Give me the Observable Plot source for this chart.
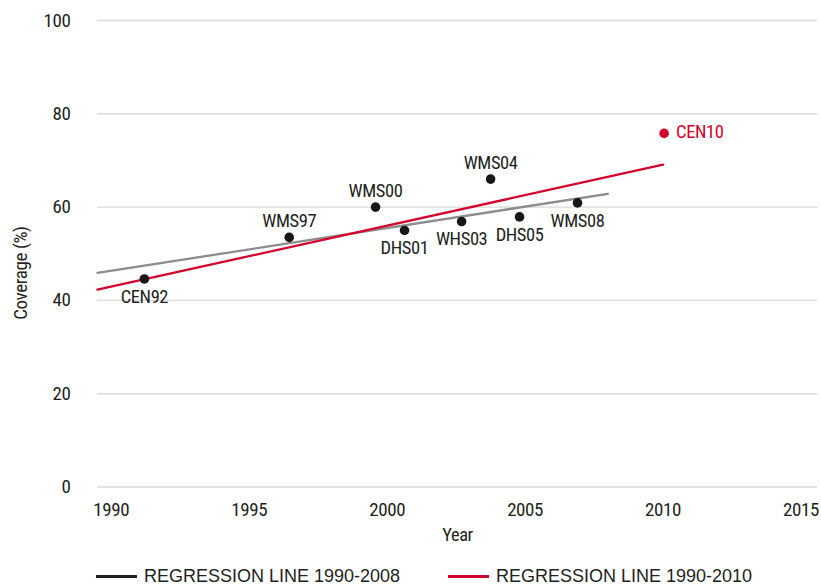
<!DOCTYPE html>
<html>
<head>
<meta charset="utf-8">
<script src="https://cdn.jsdelivr.net/npm/d3@7"></script>
<script src="https://cdn.jsdelivr.net/npm/@observablehq/plot@0.6"></script>
<style>
  html, body { margin: 0; padding: 0; background: #fff; }
  #wrap { position: relative; width: 821px; height: 585px; overflow: hidden; }
  #chart svg { overflow: visible; }
  #legend { position: absolute; left: 0; top: 568px; width: 821px; height: 17px;
            font-family: "Liberation Sans", Arial, sans-serif; font-size: 18px; line-height: 17px; color: #231f20; }
  .item { position: absolute; top: 0; height: 17px; display: flex; align-items: center; white-space: nowrap; }
  .swatch { display: inline-block; height: 2.5px; margin-right: 7px; }
</style>
</head>
<body>
<div id="wrap">
  <div id="chart"></div>
  <div id="legend"></div>
</div>
<script>
// ---- data ----
const surveys  = ["CEN92", "WMS97", "WMS00", "DHS01", "WHS03", "WMS04", "DHS05", "WMS08", "CEN10"];
const years    = [1991.2, 1996.45, 1999.58, 2000.63, 2002.7, 2003.75, 2004.8, 2006.9, 2010.04];
const coverage = [44.6, 53.5, 60.0, 55.0, 56.9, 66.0, 57.9, 60.9, 75.8];
const labelPos = ["below", "above", "above", "below", "below", "above", "below", "below", "right"];

const reg1Years  = [1989.5, 2008];   // regression line 1990-2008
const reg1Values = [45.9, 62.85];
const reg2Years  = [1989.5, 2010];   // regression line 1990-2010
const reg2Values = [42.3, 69.1];

const xTicks = [1990, 1995, 2000, 2005, 2010, 2015];
const yTicks = [0, 20, 40, 60, 80, 100];
const legendLabels = ["REGRESSION LINE 1990-2008", "REGRESSION LINE 1990-2010"];

// ---- styles ----
const RED = "#d4002b";
const GREY = "#8c8c8c";
const INK = "#231f20";
const narrow = "'Roboto Condensed', 'Open Sans', sans-serif";

const pts = surveys.map((s, i) => ({survey: s, year: years[i], value: coverage[i], pos: labelPos[i], isLast: s === "CEN10"}));
const reg1 = reg1Years.map((y, i) => ({year: y, value: reg1Values[i]}));
const reg2 = reg2Years.map((y, i) => ({year: y, value: reg2Values[i]}));

const chart = Plot.plot({
  width: 821,
  height: 550,
  marginLeft: 97,
  marginRight: 4,
  marginTop: 20,
  marginBottom: 63.5,
  style: {fontFamily: narrow, fontSize: "19px", color: INK, background: "#fff", letterSpacing: "-0.4px", overflow: "visible"},
  x: {domain: [1989.5, 2015.6], ticks: xTicks, tickFormat: d => String(d), tickSize: 0, tickPadding: 15, label: null},
  y: {domain: [0, 100], ticks: yTicks, tickSize: 0, tickPadding: 27, label: null},
  marks: [
    Plot.ruleY(yTicks, {stroke: "#dadada", strokeWidth: 1.4}),
    Plot.line(reg1, {x: "year", y: "value", stroke: GREY, strokeWidth: 2.3}),
    Plot.line(reg2, {x: "year", y: "value", stroke: RED, strokeWidth: 2.3}),
    Plot.dot(pts, {x: "year", y: "value", r: 4.8, fill: d => d.isLast ? RED : "#1a1617", stroke: "none"}),
    Plot.text(pts.filter(d => d.pos === "above"), {x: "year", y: "value", text: "survey", dy: -16.5, fill: INK, fontSize: 18.5}),
    Plot.text(pts.filter(d => d.pos === "below"), {x: "year", y: "value", text: "survey", dy: 18, fill: INK, fontSize: 18.5}),
    Plot.text(pts.filter(d => d.pos === "right"), {x: "year", y: "value", text: "survey", dx: 12, dy: -1, textAnchor: "start", fill: RED, fontSize: 18.5}),
    Plot.text(["Year"], {frameAnchor: "bottom", dy: 53.5, fill: INK, fontSize: 18.5}),
    Plot.text(["Coverage (%)"], {frameAnchor: "left", rotate: -90, dx: -77, dy: 66, fill: INK, fontSize: 19})
  ]
});
document.getElementById("chart").appendChild(chart);

// ---- legend ----
const legend = document.getElementById("legend");
const legendItems = [
  {label: legendLabels[0], color: INK, left: 96},
  {label: legendLabels[1], color: RED, left: 448}
];
legendItems.forEach(it => {
  const div = document.createElement("div");
  div.className = "item";
  div.style.left = it.left + "px";
  const sw = document.createElement("span");
  sw.className = "swatch";
  sw.style.width = "41px";
  sw.style.background = it.color;
  const tx = document.createElement("span");
  tx.textContent = it.label;
  div.appendChild(sw);
  div.appendChild(tx);
  legend.appendChild(div);
});
</script>
</body>
</html>
